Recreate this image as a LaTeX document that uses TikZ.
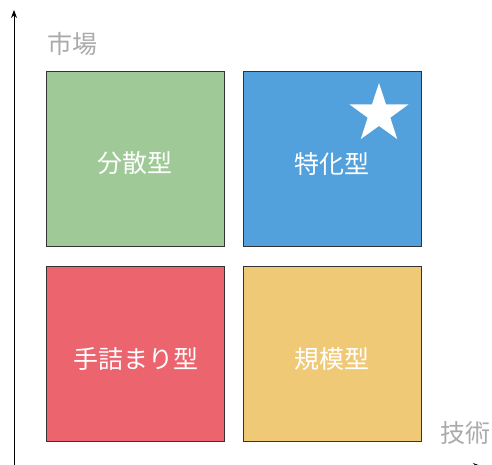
\documentclass[tikz,border=0pt]{standalone}
\usepackage{fontspec}
\setmainfont{Noto Sans CJK JP}
\usetikzlibrary{shapes.geometric,arrows.meta}
\definecolor{cellgreen}{HTML}{9FC997}
\definecolor{cellblue}{HTML}{52A0DC}
\definecolor{cellred}{HTML}{EB646E}
\definecolor{cellyellow}{HTML}{F0C976}
\definecolor{axisgray}{HTML}{AAAAAA}
\begin{document}
\begin{tikzpicture}
	[x=1pt,y=-1pt,
	cell/.style={draw=black!80,line width=.8pt,minimum width=178pt,minimum height=175pt,inner sep=0pt},
	celltext/.style={text=white,font=\fontsize{25}{25}\selectfont,inner sep=0pt,yshift=-5pt},
	axislabel/.style={text=axisgray,font=\fontsize{25}{25}\selectfont,inner sep=0pt},
	axis/.style={line width=.8pt,-{Stealth[length=8pt,width=6pt]}}]
	\useasboundingbox (0,0) rectangle (492,464);
	% quadrants
	\node[cell,fill=cellgreen,label={[celltext]center:分散型}] (dispersed) at (135,158.5) {};
	\node[cell,fill=cellblue,label={[celltext]center:特化型}] (special) at (332,158.5) {};
	\node[cell,fill=cellred,label={[celltext]center:手詰まり型}] (stalemate) at (135.5,354) {};
	\node[cell,fill=cellyellow,label={[celltext]center:規模型}] (scale) at (332,354) {};
	\node[star,star points=5,star point ratio=2.6,fill=white,minimum size=62pt,inner sep=0pt] (mark) at (379,114) {};
	% axes
	\coordinate (origin) at (14,466);
	\coordinate (ytip) at (14,10);
	\coordinate (xtip) at (481,466);
	\draw[axis] (origin) -- (ytip);
	\draw[axis] (origin) -- (xtip);
	\node[axislabel] (market) at (72,44) {市場};
	\node[axislabel] (tech) at (465,433) {技術};
\end{tikzpicture}
\end{document}
